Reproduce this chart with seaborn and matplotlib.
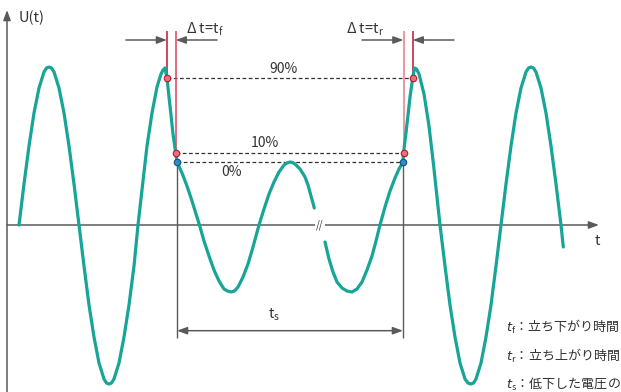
import matplotlib
matplotlib.use('Agg')

import pandas as pd
import matplotlib.pyplot as plt
import seaborn as sns

# waveform (t in arbitrary units, U in arbitrary units)
seg1_t = [19, 24, 29, 34, 39, 44, 46.5, 49, 51.5, 54, 59, 64, 69, 74, 79, 84, 89, 94, 99, 104,
          106.5, 109, 111.5, 114, 119, 124, 129, 134, 138, 143, 147, 152, 157, 161, 163, 165,
          167, 169, 171, 173, 175.7, 177, 182, 187, 192, 196, 199.5, 204, 209, 214, 219, 224,
          227.5, 231, 234.5, 238, 243, 248, 253, 259, 264, 269, 274, 279, 284, 287, 290, 292.5,
          295, 300, 305, 308, 311, 314.3]
seg1_u = [0, 41, 79, 112, 137, 153, 157, 158, 157, 153, 137, 112, 79, 41, 0, -41, -80, -112, -138, -154,
          -158, -159, -158, -154, -138, -112, -80, -41, 0, 44, 79, 112, 138, 151, 155, 157,
          147, 128, 110, 91, 72, 63, 52, 39, 24, 11, 0, -16, -31, -45, -56, -64,
          -66, -67, -66, -62, -52, -39, -22, 0, 16, 31, 43, 53, 60, 62, 63, 62.5,
          61, 56, 48, 40, 29, 17]

seg2_t = [325, 329, 333, 337, 342, 347, 352, 357, 362, 367, 372, 376, 380, 385, 390, 395, 399,
          403, 403.5, 406, 408, 410, 412.7, 414.5, 416.5, 419, 424, 429, 434, 440, 445, 450, 455,
          460, 465, 468, 470.7, 473.5, 476, 481, 486, 491, 496, 501, 506, 511, 516, 521, 526,
          528.5, 531, 533.5, 536, 541, 546, 551, 556, 561, 563.3]
seg2_u = [-17, -34, -47, -57, -63, -66, -67, -64, -57, -45, -31, -16, 0, 18, 34, 47, 56,
          63, 72, 92, 110, 128, 147, 157, 156, 151, 131, 99, 56, 0, -41, -80, -112,
          -138, -154, -158, -159, -158, -154, -138, -112, -80, -41, 0, 41, 79, 112, 137, 153,
          157, 158, 157, 153, 137, 112, 79, 41, 0, -22]

# levels and crossing times (90%, 10%, 0%)
level_labels = ['90%', '10%', '0%']
level_u = [147, 72, 63]
fall_t = [167, 175.7, 177]
rise_t = [412.7, 403.5, 403]

legend_lines = [r'$t_\mathrm{f}$：立ち下がり時間',
                r'$t_\mathrm{r}$：立ち上がり時間',
                r'$t_\mathrm{s}$：低下した電圧の']

TEAL = '#16a596'
GRAY = '#5a5a5a'
TXT = '#333333'
DARK_RED = '#c0142e'
RED = '#d9475b'
PINK = '#e8909a'

sns.set_style('white')
plt.rcParams['font.family'] = ['Noto Sans CJK JP', 'DejaVu Sans']
plt.rcParams['mathtext.fontset'] = 'custom'
plt.rcParams['mathtext.rm'] = 'Noto Sans CJK JP'
plt.rcParams['mathtext.it'] = 'DejaVu Sans:italic'

df = pd.concat([
    pd.DataFrame({'t': seg1_t, 'U': seg1_u, 'seg': 1}),
    pd.DataFrame({'t': seg2_t, 'U': seg2_u, 'seg': 2}),
])

fig = plt.figure(figsize=(6.21, 3.92), dpi=100)
ax = fig.add_axes([0, 0, 1, 1])
ax.set_xlim(0, 621)
ax.set_ylim(-167, 225)
ax.axis('off')

arrow = dict(arrowstyle='-|>,head_length=0.6,head_width=0.22', color=GRAY, lw=1.1,
             mutation_scale=10, shrinkA=0, shrinkB=0)

# axes with arrows
ax.annotate('', xy=(7, 215), xytext=(7, -170), arrowprops=arrow)
ax.annotate('', xy=(599, 0), xytext=(7, 0), arrowprops=arrow)
ax.text(19, 207, 'U(t)', fontsize=10.5, color=TXT, va='center', ha='left')
ax.text(597, -16, 't', fontsize=10.5, color=TXT, va='center', ha='center')
ax.text(320, 0, '//', fontsize=7, style='italic', color=TXT, ha='center', va='center',
        bbox=dict(fc='white', ec='none', pad=1.2), zorder=4)

# waveform
sns.lineplot(data=df, x='t', y='U', units='seg', estimator=None, sort=False,
             color=TEAL, lw=2.3, ax=ax, zorder=3, solid_joinstyle='round')

# level lines
for lab, u, tf, tr in zip(level_labels, level_u, fall_t, rise_t):
    ax.hlines(u, tf, tr, colors=TXT, lw=0.9, linestyles=(0, (3, 2)), zorder=2)
ax.text(283.5, level_u[0] + 9, level_labels[0], fontsize=10, color=TXT, ha='center', va='center')
ax.text(265, level_u[1] + 10, level_labels[1], fontsize=10, color=TXT, ha='center', va='center')
ax.text(231, level_u[2] - 10, level_labels[2], fontsize=10, color=TXT, ha='center', va='center')

# red/pink verticals for the dt markers
ax.vlines(fall_t[0], level_u[0], 194, colors=DARK_RED, lw=1.1, zorder=2)
ax.vlines(fall_t[1], level_u[1], 194, colors=RED, lw=1.1, zorder=2)
ax.vlines(rise_t[1], level_u[1], 194, colors=PINK, lw=1.3, zorder=2)
ax.vlines(rise_t[0], level_u[0], 194, colors=DARK_RED, lw=1.1, zorder=2)

# gray verticals for ts
ax.vlines([fall_t[2], rise_t[2]], -113, level_u[2], colors=GRAY, lw=1.0, zorder=2)

# dt arrows
ax.annotate('', xy=(fall_t[0], 185), xytext=(126, 185), arrowprops=arrow)
ax.annotate('', xy=(fall_t[1], 185), xytext=(217, 185), arrowprops=arrow)
ax.annotate('', xy=(rise_t[1], 185), xytext=(362, 185), arrowprops=arrow)
ax.annotate('', xy=(rise_t[0], 185), xytext=(454, 185), arrowprops=arrow)
ax.text(186, 196, r'Δ t=t$_\mathrm{f}$', fontsize=10.5, color=TXT, ha='left', va='center')
ax.text(346, 196, r'Δ t=t$_\mathrm{r}$', fontsize=10.5, color=TXT, ha='left', va='center')

# ts arrow
ax.annotate('', xy=(fall_t[2], -105.7), xytext=(rise_t[2], -105.7),
            arrowprops=dict(arrow, arrowstyle='<|-|>,head_length=0.6,head_width=0.22'))
ax.text(274, -90, r't$_\mathrm{s}$', fontsize=10.5, color=TXT, ha='center', va='center')

# crossing dots
red_t = [fall_t[0], fall_t[1], rise_t[1], rise_t[0]]
red_u = [level_u[0], level_u[1], level_u[1], level_u[0]]
sns.scatterplot(x=red_t, y=red_u, s=22, color='#e8707c', edgecolor=DARK_RED, linewidth=0.8,
                ax=ax, zorder=5)
sns.scatterplot(x=[fall_t[2], rise_t[2]], y=[level_u[2], level_u[2]], s=22, color='#2a8ccc',
                edgecolor='#1a4f78', linewidth=0.8, ax=ax, zorder=5)

# legend text
for i, line in enumerate(legend_lines):
    ax.text(506, -102 - 28.5 * i, line, fontsize=9.4, color=TXT, ha='left', va='center')

fig.savefig('out.png', dpi=100)
